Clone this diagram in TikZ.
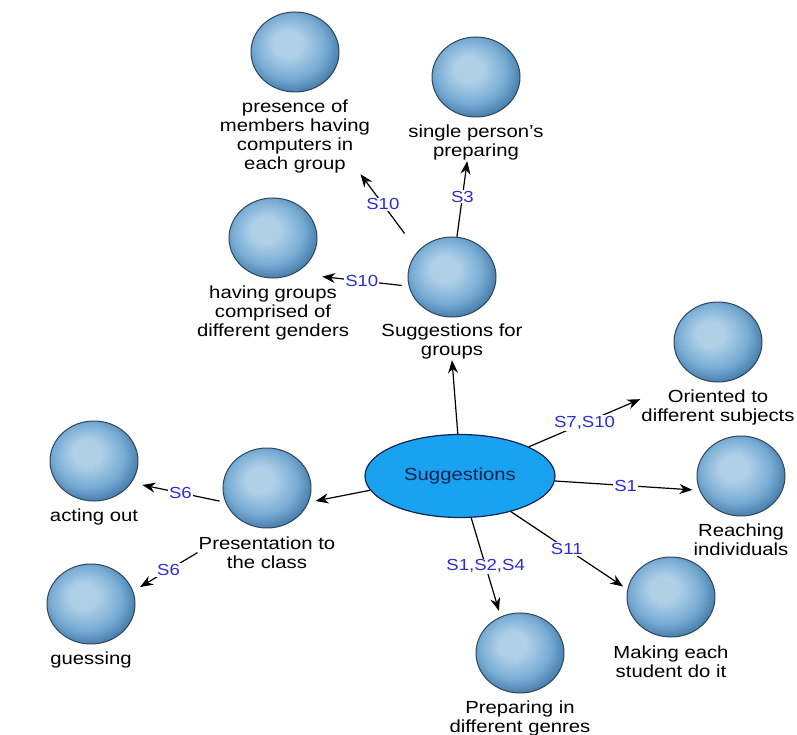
\documentclass[tikz,border=0pt]{standalone}
\usepackage{fontspec}
\setmainfont{Liberation Sans}[FakeStretch=1.16]
\usetikzlibrary{arrows.meta,shapes.geometric,positioning}

\definecolor{ballhi}{RGB}{176,208,232}
\definecolor{ballmid}{RGB}{120,172,212}
\definecolor{balledge}{RGB}{70,126,172}
\definecolor{ballline}{RGB}{50,70,90}
\definecolor{sblue}{RGB}{45,45,215}
\definecolor{navy}{RGB}{18,36,78}
\definecolor{centre}{RGB}{24,162,240}
\pgfdeclareradialshading{ballshade}{\pgfpoint{-5bp}{6bp}}{color(0bp)=(ballhi); color(8bp)=(ballhi); color(20bp)=(ballmid); color(28bp)=(balledge); color(50bp)=(balledge)}

\begin{document}
\begin{tikzpicture}[x=1pt, y=-1pt,
    ball/.style={ellipse, minimum width=88pt, minimum height=80pt, inner sep=0pt, draw=ballline, line width=1pt, shading=ballshade},
    txt/.style={align=center, inner sep=1pt, font=\fontsize{17.5}{19}\selectfont},
    lbl/.style={fill=white, inner sep=1pt, text=sblue, font=\fontsize{16}{18}\selectfont},
    arr/.style={-{Stealth[length=13pt, width=10pt]}, line width=1.2pt}]
    \useasboundingbox (0,0) rectangle (797,735);

    \coordinate (S) at (460, 476);
    \coordinate (pres) at (295, 52);
    \coordinate (single) at (476, 77);
    \coordinate (having) at (273, 238);
    \coordinate (groups) at (452, 277);
    \coordinate (orient) at (718, 342);
    \coordinate (reach) at (741, 476);
    \coordinate (making) at (671, 597);
    \coordinate (genres) at (520, 653);
    \coordinate (present) at (267, 488);
    \coordinate (acting) at (94, 461);
    \coordinate (guess) at (91, 604);

    \node[ellipse, minimum width=190pt, minimum height=83pt, inner sep=0pt, fill=centre, draw=navy, line width=1.2pt, text=navy, font=\fontsize{17.5}{19}\selectfont] (sugg) at (S) {Suggestions};

    \node[ball] (bpres) at (pres) {};
    \node[ball] (bsingle) at (single) {};
    \node[ball] (bhaving) at (having) {};
    \node[ball] (bgroups) at (groups) {};
    \node[ball] (borient) at (orient) {};
    \node[ball] (breach) at (reach) {};
    \node[ball] (bmaking) at (making) {};
    \node[ball] (bgenres) at (genres) {};
    \node[ball] (bpresent) at (present) {};
    \node[ball] (bacting) at (acting) {};
    \node[ball] (bguess) at (guess) {};

    \node[txt, below=6pt] (tpres) at (bpres.south) {presence of\\members having\\computers in\\each group};
    \node[txt, below=6pt] (tsingle) at (bsingle.south) {single person’s\\preparing};
    \node[txt, below=6pt] (thaving) at (bhaving.south) {having groups\\comprised of\\different genders};
    \node[txt, below=5pt] (tgroups) at (bgroups.south) {Suggestions for\\groups};
    \node[txt, below=6pt] (torient) at (borient.south) {Oriented to\\different subjects};
    \node[txt, below=6pt] (treach) at (breach.south) {Reaching\\individuals};
    \node[txt, below=7pt] (tmaking) at (bmaking.south) {Making each\\student do it};
    \node[txt, below=6pt] (tgenres) at (bgenres.south) {Preparing in\\different genres};
    \node[txt, below=7pt] (tpresent) at (bpresent.south) {Presentation to\\the class};
    \node[txt, below=6pt] (tacting) at (bacting.south) {acting out};
    \node[txt, below=6pt] (tguess) at (bguess.south) {guessing};

    \draw[arr] (sugg.93) -- (tgroups.south);
    \draw[arr, shorten <=22pt] (bgroups.143) -- node[lbl, pos=.61] {S10} (tpres.-30);
    \draw[arr] (bgroups.83) -- node[lbl, pos=.53] {S3} (tsingle.-115);
    \draw[arr, shorten <=7pt, shorten >=28pt] (bgroups.192) -- node[lbl, pos=.41] {S10} (bhaving.-59);
    \draw[arr] (sugg.23) -- node[lbl, pos=.5] {S7,S10} (torient.174);
    \draw[arr, shorten >=7pt] (sugg.-3) -- node[lbl, pos=.49] {S1} (breach.199);
    \draw[arr, shorten >=5pt] (sugg.-35) -- node[lbl, pos=.48] {S11} (bmaking.170);
    \draw[arr, shorten >=6pt] (sugg.-75) -- node[lbl, pos=.49] {S1,S2,S4} (bgenres.118);
    \draw[arr, shorten >=7pt] (sugg.189) -- (bpresent.-19);
    \draw[arr, shorten <=6pt, shorten >=11pt] (bpresent.199) -- node[lbl, pos=.48] {S6} (bacting.-30);
    \draw[arr, shorten >=8pt] (tpresent.west) -- node[lbl, pos=.45] {S6} (bguess.17);
\end{tikzpicture}
\end{document}
